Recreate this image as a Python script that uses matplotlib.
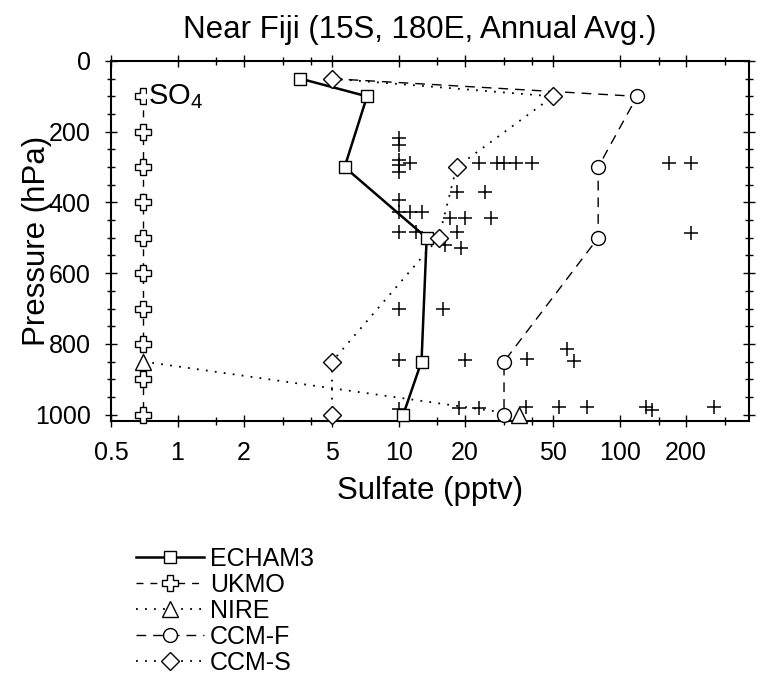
import matplotlib
matplotlib.use('Agg')
import matplotlib.pyplot as plt

plt.rcParams['font.family'] = ['Liberation Sans', 'DejaVu Sans']
plt.rcParams['mathtext.fontset'] = 'custom'
plt.rcParams['mathtext.rm'] = 'Liberation Sans'

# model profiles (sulfate pptv vs pressure hPa)
echam_x = [3.6, 7.2, 5.7, 13.4, 12.7, 10.5]
echam_p = [50, 100, 300, 500, 850, 1000]
ukmo_x = [0.7, 0.7, 0.7, 0.7, 0.7, 0.7, 0.7, 0.7, 0.7, 0.7]
ukmo_p = [100, 200, 300, 400, 500, 600, 700, 800, 900, 1000]
nire_x = [0.7, 35]
nire_p = [850, 1000]
ccmf_x = [5, 120, 80, 80, 30, 30]
ccmf_p = [50, 100, 300, 500, 850, 1000]
ccms_x = [5, 50, 18.3, 15.2, 5, 5]
ccms_p = [50, 100, 300, 500, 850, 1000]

# observations
obs_x = [10, 10, 10, 10, 10, 11.3, 23, 28, 30, 34, 40, 167, 210,
         18.3, 24.5,
         10,
         10, 11.3, 12.8,
         17.1, 20, 26.3,
         10, 12, 18.3, 210,
         16.3, 19.2,
         10, 15.9,
         10, 20, 38, 58, 62.5,
         10, 18.7, 23, 37.7, 53, 71, 132, 140, 268]
obs_p = [218, 238, 280, 295, 314, 289, 289, 289, 289, 289, 289, 289, 289,
         371, 371,
         394,
         428, 428, 428,
         445, 445, 445,
         484, 484, 484, 487,
         521, 530,
         700, 700,
         845, 845, 842, 813, 847,
         983, 980, 980, 977, 977, 977, 977, 986, 977]

xticks = [0.5, 1, 2, 5, 10, 20, 50, 100, 200]
xtick_labels = ['0.5', '1', '2', '5', '10', '20', '50', '100', '200']
xminor = [1.5, 3, 4, 15, 30, 40, 150, 300]

fig = plt.figure(figsize=(7.57, 6.82), dpi=100)
ax = fig.add_axes([111 / 757, 1 - 421 / 682, 638 / 757, 360 / 682])

dotted = (0, (1.0, 4.0))
l_echam, = ax.plot(echam_x, echam_p, color='black', lw=1.8, ls='-',
                   marker='s', ms=8.5, mfc='white', mec='black', mew=1.0,
                   zorder=3, clip_on=False)
l_ukmo, = ax.plot(ukmo_x, ukmo_p, color='black', lw=1.0, ls=(0, (5, 5)),
                  marker='P', ms=11.5, mfc='white', mec='black', mew=1.0,
                  zorder=3, clip_on=False)
l_nire, = ax.plot(nire_x, nire_p, color='black', lw=1.3, ls=dotted,
                  marker='^', ms=11, mfc='white', mec='black', mew=1.0,
                  zorder=3, clip_on=False)
l_ccmf, = ax.plot(ccmf_x, ccmf_p, color='black', lw=1.0, ls=(0, (7, 5)),
                  marker='o', ms=10, mfc='white', mec='black', mew=1.0,
                  markevery=[1, 2, 3, 4, 5], zorder=3, clip_on=False)
l_ccms, = ax.plot(ccms_x, ccms_p, color='black', lw=1.3, ls=dotted,
                  marker='D', ms=9.5, mfc='white', mec='black', mew=1.0,
                  zorder=3, clip_on=False)
ax.plot(obs_x, obs_p, ls='none', marker='+', ms=10, mew=1.1, color='black',
        zorder=2, clip_on=False)

ax.text(0.735, 100, r'SO$_\mathrm{4}$', fontsize=21, ha='left', va='center',
        zorder=5, bbox=dict(facecolor='white', edgecolor='none', pad=1))

ax.set_xscale('log')
ax.set_xlim(0.5, 385)
ax.set_ylim(1018, 0)
ax.set_xticks(xticks)
ax.set_xticklabels(xtick_labels)
ax.set_xticks(xminor, minor=True)
ax.set_xticklabels([], minor=True)
ax.set_yticks([0, 200, 400, 600, 800, 1000])
ax.set_yticks(range(50, 1001, 50), minor=True)

ax.tick_params(which='both', direction='inout', top=True, right=True,
               labelsize=18, pad=10, width=1.0)
ax.tick_params(which='major', length=9)
ax.tick_params(which='minor', length=6)
for sp in ax.spines.values():
    sp.set_linewidth(1.5)

ax.set_xlabel('Sulfate (pptv)', fontsize=22.5)
ax.set_ylabel('Pressure (hPa)', fontsize=22.5)
ax.xaxis.set_label_coords(0.5, -0.152)
ax.yaxis.set_label_coords(-0.092, 0.5)

fig.text(420 / 757, 1 - 30 / 682, 'Near Fiji (15S, 180E, Annual Avg.)',
         fontsize=22.5, ha='center', va='center')

fig.legend([l_echam, l_ukmo, l_nire, l_ccmf, l_ccms],
           ['ECHAM3', 'UKMO', 'NIRE', 'CCM-F', 'CCM-S'],
           loc='upper left', bbox_to_anchor=(136 / 757, 1 - 547 / 682),
           frameon=False, fontsize=18, handlelength=2.7, handletextpad=0.25,
           labelspacing=0.08, borderpad=0, borderaxespad=0, numpoints=1)

fig.savefig('out.png', dpi=100)
